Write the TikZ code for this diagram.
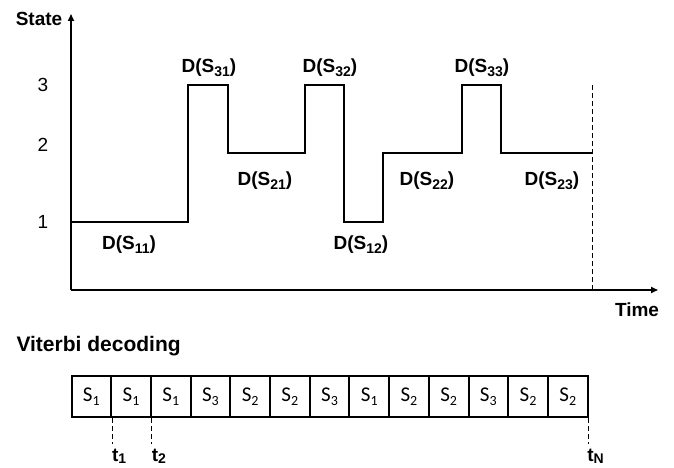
\documentclass[tikz,border=0pt]{standalone}
\usepackage{fontspec}
\setmainfont{Liberation Sans}
\newfontfamily\boxfont{Carlito}
\usetikzlibrary{arrows.meta,calc}
\newcommand\dsub[1]{\raisebox{-0.4ex}{\fontsize{14}{14}\selectfont #1}}
\newcommand\tsub[1]{\raisebox{-0.25ex}{\fontsize{14}{14}\selectfont #1}}
\newcommand\bsub[1]{\raisebox{-0.35ex}{\fontsize{14}{14}\selectfont #1}}
\tikzset{
  axis/.style={line width=1.6pt,-{Triangle[length=7pt,width=6pt]}},
  steps/.style={line width=1.3pt},
  guide/.style={line width=0.9pt,dash pattern=on 5pt off 3pt},
  lvl/.style={font=\fontsize{19}{19}\selectfont},
  dlab/.style={font=\fontsize{19}{19}\selectfont\bfseries},
  title/.style={font=\fontsize{19}{19}\selectfont\bfseries},
  tlab/.style={font=\fontsize{19}{19}\selectfont\bfseries,inner sep=1pt},
  cell/.style={draw,line width=2pt,minimum width=39.7pt,minimum height=41pt,inner sep=0pt,anchor=west,font=\boxfont\fontsize{21}{21}\selectfont},
}
\begin{document}
\begin{tikzpicture}[x=1pt,y=-1pt]
\useasboundingbox (0,0) rectangle (674,468);
% axes
\coordinate (O) at (71,290);
\coordinate (ytop) at (71,14);
\coordinate (xend) at (658,290);
\draw[axis] (O) -- (ytop);
\draw[axis] (O) -- (xend);
\node[title] (state) at (39,19) {State};
\node[title] (time) at (637,310) {Time};
\node[lvl] (l3) at (43,85) {3};
\node[lvl] (l2) at (43,145) {2};
\node[lvl] (l1) at (43,222) {1};
% state sequence
\draw[steps] (71,222) -- (188,222) -- (188,85) -- (228,85) -- (228,153) -- (305,153)
  -- (305,85) -- (344,85) -- (344,222) -- (383,222) -- (383,153) -- (462,153)
  -- (462,85) -- (501,85) -- (501,153) -- (592,153);
\coordinate (endtop) at (592,85);
\coordinate (endbot) at (592,290);
\draw[guide] (endtop) -- (endbot);
% duration labels
\node[dlab] (d31) at (209,68) {D(S\dsub{31})};
\node[dlab] (d32) at (330,68) {D(S\dsub{32})};
\node[dlab] (d33) at (482,68) {D(S\dsub{33})};
\node[dlab] (d21) at (265,181) {D(S\dsub{21})};
\node[dlab] (d22) at (427,181) {D(S\dsub{22})};
\node[dlab] (d23) at (552,181) {D(S\dsub{23})};
\node[dlab] (d11) at (129,245) {D(S\dsub{11})};
\node[dlab] (d12) at (361,245) {D(S\dsub{12})};
% Viterbi decoding
\node[title,anchor=west,font=\fontsize{21}{21}\selectfont\bfseries] (vit) at (13,346) {Viterbi decoding};
\foreach \s [count=\i from 0] in {1,1,1,3,2,2,3,1,2,2,3,2,2} {
  \node[cell] (c\i) at ({70.5+39.7*\i},396.5) {S\bsub{\s}};
}
\node[tlab,anchor=south] (t1) at ($(c0.south east)+(7,47)$) {t\tsub{1}};
\node[tlab,anchor=south] (t2) at ($(c1.south east)+(7,47)$) {t\tsub{2}};
\node[tlab,anchor=south] (tN) at ($(c12.south east)+(7,47)$) {t\tsub{N}};
\draw[guide] (c0.south east) -- ++(0,26);
\draw[guide] (c1.south east) -- ++(0,26);
\draw[guide] (c12.south east) -- ++(0,26);
\end{tikzpicture}
\end{document}
